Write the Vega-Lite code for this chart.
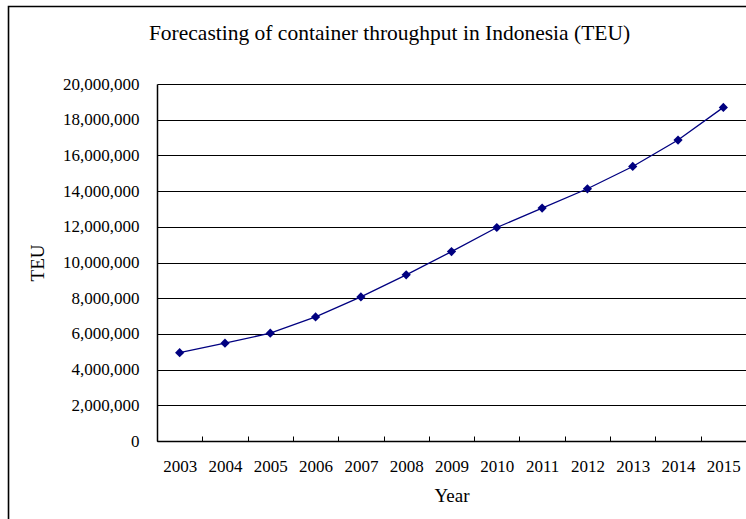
{
  "$schema": "https://vega.github.io/schema/vega-lite/v6.json",
  "width": 589,
  "height": 357,
  "autosize": {"type": "none"},
  "padding": {"left": 157, "top": 84, "right": 0, "bottom": 78},
  "background": "#ffffff",
  "title": {
    "text": "Forecasting of container throughput in Indonesia (TEU)",
    "font": "Liberation Serif",
    "fontSize": 21.5,
    "fontWeight": "normal",
    "color": "#000000",
    "anchor": "middle",
    "frame": "group",
    "baseline": "alphabetic",
    "dx": -62,
    "offset": -56
  },
  "config": {
    "view": {"stroke": null},
    "axis": {
      "labelFont": "Liberation Serif",
      "titleFont": "Liberation Serif",
      "labelColor": "#000000",
      "titleColor": "#000000",
      "domainColor": "#000000",
      "tickColor": "#000000",
      "gridColor": "#000000"
    }
  },
  "datasets": {
    "frame": [{"x0": -0.2521, "x1": 1.1, "y0": 1.2171, "y1": -0.3}],
    "teu": [
      {"year": "2003", "teu": 4950000},
      {"year": "2004", "teu": 5480000},
      {"year": "2005", "teu": 6040000},
      {"year": "2006", "teu": 6950000},
      {"year": "2007", "teu": 8070000},
      {"year": "2008", "teu": 9310000},
      {"year": "2009", "teu": 10610000},
      {"year": "2010", "teu": 11960000},
      {"year": "2011", "teu": 13050000},
      {"year": "2012", "teu": 14130000},
      {"year": "2013", "teu": 15380000},
      {"year": "2014", "teu": 16860000},
      {"year": "2015", "teu": 18690000}
    ]
  },
  "layer": [
    {
      "data": {"name": "frame"},
      "mark": {"type": "rect", "filled": false, "stroke": "#000000", "strokeWidth": 1.6},
      "encoding": {
        "x": {"field": "x0", "type": "quantitative", "scale": {"domain": [0, 1]}, "axis": null},
        "x2": {"field": "x1"},
        "y": {"field": "y0", "type": "quantitative", "scale": {"domain": [0, 1]}, "axis": null},
        "y2": {"field": "y1"}
      }
    },
    {
      "data": {"name": "teu"},
      "encoding": {
        "x": {
          "field": "year",
          "type": "ordinal",
          "scale": {"paddingInner": 0, "paddingOuter": 0},
          "axis": {
            "title": "Year",
            "titleFontSize": 19,
            "titleFontWeight": "normal",
            "titlePadding": 12,
            "labelAngle": 0,
            "labelFontSize": 17,
            "labelPadding": 22,
            "tickBand": "extent",
            "tickSize": -5,
            "domainWidth": 1.5,
            "grid": false
          }
        },
        "y": {
          "field": "teu",
          "type": "quantitative",
          "scale": {"domain": [0, 20000000], "nice": false, "zero": true},
          "axis": {
            "title": "TEU",
            "titleFontSize": 19,
            "titleFontWeight": "normal",
            "titlePadding": 15,
            "labelFontSize": 17,
            "labelPadding": 18,
            "labelOverlap": false,
            "tickSize": 0,
            "values": [0, 2000000, 4000000, 6000000, 8000000, 10000000, 12000000, 14000000, 16000000, 18000000, 20000000],
            "format": ",d",
            "grid": true,
            "gridWidth": 1,
            "domainWidth": 1.5
          }
        }
      },
      "layer": [
        {"mark": {"type": "line", "color": "#000080", "strokeWidth": 1.3}},
        {"mark": {"type": "point", "shape": "diamond", "filled": true, "color": "#000080", "size": 85, "opacity": 1}}
      ]
    }
  ],
  "resolve": {"scale": {"x": "independent", "y": "independent"}}
}
